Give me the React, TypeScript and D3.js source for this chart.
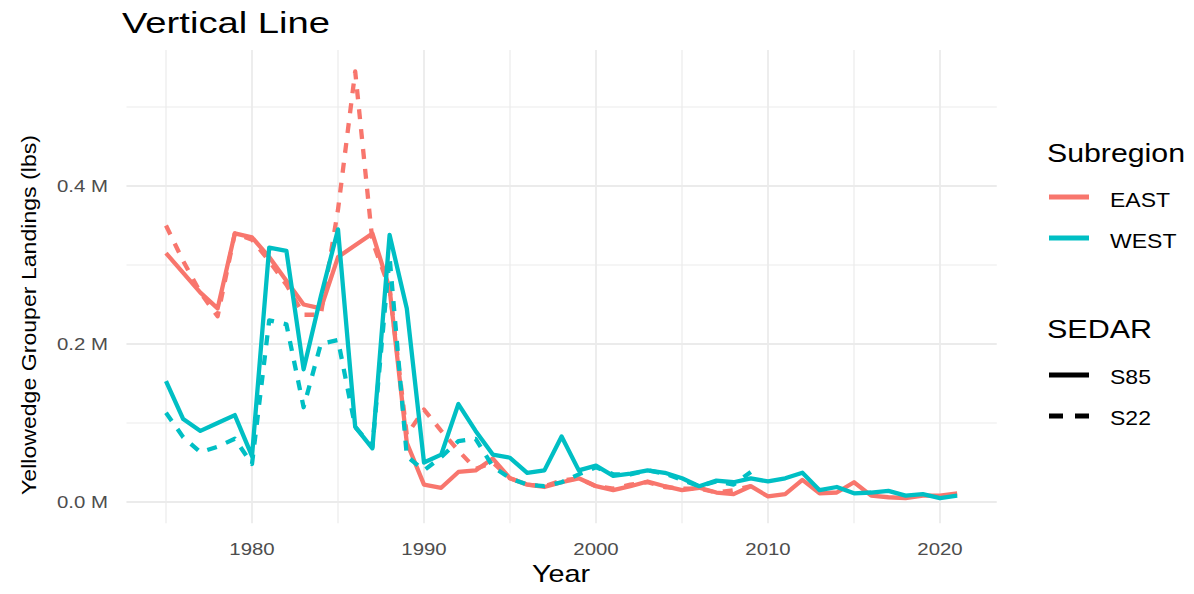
import React from "react";
import * as d3 from "d3";

const years: number[] = d3.range(1975, 2022);
const yearsS22: number[] = d3.range(1975, 2010);

const eastS85: number[] = [
  0.315, 0.29, 0.265, 0.245, 0.34, 0.335, 0.31, 0.28, 0.25, 0.245,
  0.31, 0.325, 0.34, 0.27, 0.075, 0.022, 0.018, 0.038, 0.04, 0.055,
  0.03, 0.022, 0.019, 0.025, 0.03, 0.02, 0.015, 0.02, 0.026, 0.02,
  0.015, 0.018, 0.012, 0.01, 0.02, 0.007, 0.01, 0.028, 0.011, 0.012,
  0.025, 0.008, 0.006, 0.005, 0.008, 0.008, 0.011,
];
const eastS22: number[] = [
  0.35, 0.305, 0.265, 0.235, 0.34, 0.332, 0.305, 0.275, 0.237, 0.237,
  0.37, 0.545, 0.33, 0.27, 0.085, 0.117, 0.09, 0.065, 0.042, 0.05,
  0.03, 0.022, 0.02, 0.027, 0.03, 0.02, 0.017, 0.022, 0.025, 0.019,
  0.017, 0.017, 0.012, 0.015, 0.02,
];
const westS85: number[] = [
  0.153, 0.105, 0.09, 0.1, 0.11, 0.058, 0.322, 0.318, 0.168, 0.26,
  0.345, 0.095, 0.068, 0.338, 0.245, 0.05, 0.06, 0.124, 0.09, 0.06,
  0.056, 0.037, 0.04, 0.083, 0.04, 0.046, 0.033, 0.036, 0.04, 0.037,
  0.03, 0.02, 0.027, 0.025, 0.03, 0.026, 0.03, 0.037, 0.015, 0.019,
  0.011, 0.012, 0.014, 0.008, 0.01, 0.005, 0.008,
];
const westS22: number[] = [
  0.113, 0.082, 0.063, 0.07, 0.08, 0.048, 0.23, 0.225, 0.12, 0.2,
  0.205, 0.095, 0.07, 0.31, 0.058, 0.04, 0.057, 0.077, 0.08, 0.045,
  0.03, 0.022, 0.02, 0.025, 0.035, 0.044, 0.035, 0.035, 0.04, 0.036,
  0.028, 0.02, 0.026, 0.022, 0.038,
];

const majorYears: number[] = [1980, 1990, 2000, 2010, 2020];
const minorYears: number[] = [1975, 1985, 1995, 2005, 2015];
const majorVals: number[] = [0, 0.2, 0.4];
const minorVals: number[] = [0.1, 0.3, 0.5];
const subregions: string[] = ["EAST", "WEST"];
const sedars: string[] = ["S85", "S22"];
const colors: Record<string, string> = { EAST: "#F8766D", WEST: "#00BFC4" };

function T(props: {
  x: number;
  y: number;
  size: number;
  sx?: number;
  anchor?: "start" | "middle" | "end";
  fill?: string;
  children: React.ReactNode;
}) {
  const { x, y, size, sx = 1.2, anchor = "start", fill = "#000", children } = props;
  return (
    <text
      transform={`translate(${x},${y}) scale(${sx},1)`}
      fontSize={size}
      textAnchor={anchor}
      fill={fill}
    >
      {children}
    </text>
  );
}

export default function App() {
  const x = d3.scaleLinear().domain([1975, 2021]).range([166, 957.2]);
  const y = d3.scaleLinear().domain([0, 0.5]).range([502, 107]);
  const xL = x(1972.7), xR = x(2023.3);
  const yT = y(0.572), yB = y(-0.027);

  const line = d3
    .line<[number, number]>()
    .x((d) => x(d[0]))
    .y((d) => y(d[1]));

  const series = [
    { sub: "EAST", sedar: "S85", yrs: years, vals: eastS85 },
    { sub: "EAST", sedar: "S22", yrs: yearsS22, vals: eastS22 },
    { sub: "WEST", sedar: "S85", yrs: years, vals: westS85 },
    { sub: "WEST", sedar: "S22", yrs: yearsS22, vals: westS22 },
  ];

  const font = "'Liberation Sans', Arial, sans-serif";
  const fmt = (v: number) => `${v.toFixed(1)} M`;

  return (
    <svg
      width={1194}
      height={594}
      style={{ position: "absolute", left: 0, top: 0, background: "#fff" }}
      fontFamily={font}
    >
      <rect width={1194} height={594} fill="#fff" />
      {minorVals.map((v) => (
        <line key={"hm" + v} x1={xL} x2={xR} y1={y(v)} y2={y(v)} stroke="#ebebeb" strokeWidth={1.2} />
      ))}
      {minorYears.map((v) => (
        <line key={"vm" + v} x1={x(v)} x2={x(v)} y1={yT} y2={yB} stroke="#ebebeb" strokeWidth={1.2} />
      ))}
      {majorVals.map((v) => (
        <line key={"hM" + v} x1={xL} x2={xR} y1={y(v)} y2={y(v)} stroke="#ebebeb" strokeWidth={1.8} />
      ))}
      {majorYears.map((v) => (
        <line key={"vM" + v} x1={x(v)} x2={x(v)} y1={yT} y2={yB} stroke="#ebebeb" strokeWidth={1.8} />
      ))}
      {series.map((s) => (
        <path
          key={s.sub + s.sedar}
          d={line(s.yrs.map((yr, i) => [yr, s.vals[i]] as [number, number])) || ""}
          fill="none"
          stroke={colors[s.sub]}
          strokeWidth={4.3}
          strokeLinejoin="round"
          strokeLinecap="butt"
          strokeDasharray={s.sedar === "S22" ? "10,10" : undefined}
        />
      ))}
      {majorVals.map((v) => (
        <T key={"yl" + v} x={108} y={y(v) + 6} size={17} anchor="end" fill="#4d4d4d">
          {fmt(v)}
        </T>
      ))}
      {majorYears.map((v) => (
        <T key={"xl" + v} x={x(v)} y={555} size={17} anchor="middle" fill="#4d4d4d">
          {v}
        </T>
      ))}
      <T x={561} y={582} size={24} anchor="middle">
        Year
      </T>
      <text
        transform={`translate(36,${315}) rotate(-90)`}
        textAnchor="middle"
        fontSize={21}
        fill="#000"
        textLength={360}
        lengthAdjust="spacingAndGlyphs"
      >
        Yellowedge Grouper Landings (lbs)
      </text>
      <text x={122} y={33} fontSize={29} fill="#000" textLength={208} lengthAdjust="spacingAndGlyphs">
        Vertical Line
      </text>
      <text x={1047} y={162} fontSize={25} fill="#000" textLength={138} lengthAdjust="spacingAndGlyphs">
        Subregion
      </text>
      {subregions.map((s, i) => (
        <g key={s}>
          <line x1={1049} x2={1089} y1={197 + i * 41} y2={197 + i * 41} stroke={colors[s]} strokeWidth={5} />
          <T x={1110} y={207 + i * 41} size={20} sx={1.15}>
            {s}
          </T>
        </g>
      ))}
      <text x={1047} y={338} fontSize={25} fill="#000" textLength={105} lengthAdjust="spacingAndGlyphs">
        SEDAR
      </text>
      {sedars.map((s, i) => (
        <g key={s}>
          <line
            x1={1049}
            x2={1089}
            y1={375 + i * 41}
            y2={375 + i * 41}
            stroke="#000"
            strokeWidth={5}
            strokeDasharray={s === "S22" ? "14,12" : undefined}
          />
          <T x={1110} y={384 + i * 41} size={20} sx={1.15}>
            {s}
          </T>
        </g>
      ))}
    </svg>
  );
}
